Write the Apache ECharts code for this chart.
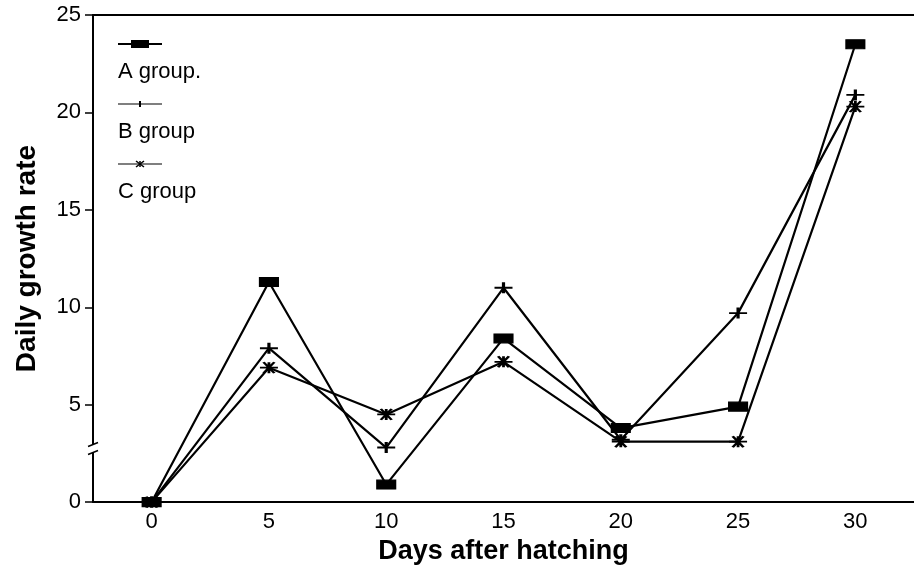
<!DOCTYPE html>
<html>
<head>
<meta charset="utf-8">
<script src="https://cdn.jsdelivr.net/npm/echarts@6/dist/echarts.min.js"></script>
<style>
  html, body { margin: 0; padding: 0; background: #fff; }
  #chart { width: 914px; height: 570px; }
</style>
</head>
<body>
<div id="chart"></div>
<script>
// values
const days = ['0', '5', '10', '15', '20', '25', '30'];
const groupA = [0, 11.3, 0.9, 8.4, 3.8, 4.9, 23.5];
const groupB = [0, 7.9, 2.8, 11.0, 3.2, 9.7, 20.9];
const groupC = [0, 6.9, 4.5, 7.2, 3.1, 3.1, 20.3];
const seriesNames = ['A group.', 'B group', 'C group'];
const yTicks = [0, 5, 10, 15, 20, 25];
const breakAt = 2.75; // where the y axis is drawn broken

const font = '"Liberation Sans", Arial, Helvetica, sans-serif';
const chart = echarts.init(document.getElementById('chart'));

const plusSymbol = 'path://M0,6 L20,6 M10,0 L10,12';
const starSymbol = 'path://M0,6 L20,6 M4,0 L16,12 M4,12 L16,0 M10,0 L10,12';

function lineSeries(name, data, symbol, size, bw) {
    return {
        name: name,
        type: 'line',
        data: data,
        symbol: symbol,
        symbolSize: size,
        clip: false,
        lineStyle: { color: '#000', width: 2.2 },
        itemStyle: { color: '#000', borderColor: '#000', borderWidth: bw },
        emphasis: { disabled: true },
        z: 3
    };
}

const option = {
    animation: false,
    backgroundColor: '#fff',
    textStyle: { fontFamily: font },
    grid: { left: 93, right: 0, top: 15, bottom: 67 },
    xAxis: [
        {
            type: 'category',
            data: days,
            boundaryGap: true,
            name: 'Days after hatching',
            nameLocation: 'middle',
            nameGap: 35,
            nameTextStyle: { fontFamily: font, fontSize: 27, fontWeight: 'bold', color: '#000' },
            axisLine: { lineStyle: { color: '#000', width: 2 } },
            axisTick: { alignWithLabel: true, length: 4, lineStyle: { color: '#000', width: 1.5 } },
            axisLabel: { fontFamily: font, fontSize: 22, color: '#000', margin: 9 },
            splitLine: { show: false }
        },
        {
            type: 'category',
            data: days,
            position: 'top',
            axisLine: { lineStyle: { color: '#000', width: 2 } },
            axisTick: { show: false },
            axisLabel: { show: false },
            splitLine: { show: false }
        }
    ],
    yAxis: {
        type: 'value',
        min: 0,
        max: 25,
        interval: 5,
        name: 'Daily growth rate',
        nameLocation: 'middle',
        nameGap: 52,
        nameRotate: 90,
        nameTextStyle: { fontFamily: font, fontSize: 28, fontWeight: 'bold', color: '#000' },
        axisLine: { show: true, lineStyle: { color: '#000', width: 2 } },
        axisTick: { show: true, length: 8, lineStyle: { color: '#000', width: 1.5 } },
        axisLabel: {
            fontFamily: font, fontSize: 22, color: '#000', margin: 12,
            formatter: v => (yTicks.indexOf(v) >= 0 ? String(v) : '')
        },
        splitLine: { show: false }
    },
    series: [
        lineSeries(seriesNames[0], groupA, 'rect', [18, 9], 1.5),
        lineSeries(seriesNames[1], groupB, plusSymbol, [18, 11], 2.5),
        lineSeries(seriesNames[2], groupC, starSymbol, [18, 11], 2.2)
    ]
};

chart.setOption(option);

// axis break marks and the legend (legend text sits under its sample line)
const bx = chart.convertToPixel({ xAxisIndex: 0 }, days[0]) - 58.6;
const by = chart.convertToPixel({ yAxisIndex: 0 }, breakAt);
const legendX = 118;
const legendRows = [44, 104, 164];

function legendSample(i, y) {
    const els = [{
        type: 'line',
        shape: { x1: legendX, y1: y, x2: legendX + 44, y2: y },
        style: { stroke: '#000', lineWidth: i === 0 ? 2 : 1.2 }
    }];
    const cx = legendX + 22;
    if (i === 0) {
        els.push({ type: 'rect', shape: { x: cx - 9, y: y - 4, width: 18, height: 8 }, style: { fill: '#000' } });
    } else if (i === 1) {
        els.push({ type: 'line', shape: { x1: cx, y1: y - 3, x2: cx, y2: y + 3 }, style: { stroke: '#000', lineWidth: 2 } });
    } else {
        els.push({ type: 'line', shape: { x1: cx - 4, y1: y - 3, x2: cx + 4, y2: y + 3 }, style: { stroke: '#000', lineWidth: 1.5 } });
        els.push({ type: 'line', shape: { x1: cx - 4, y1: y + 3, x2: cx + 4, y2: y - 3 }, style: { stroke: '#000', lineWidth: 1.5 } });
        els.push({ type: 'line', shape: { x1: cx, y1: y - 3, x2: cx, y2: y + 3 }, style: { stroke: '#000', lineWidth: 1.5 } });
    }
    els.push({
        type: 'text',
        x: legendX,
        y: y + 28,
        style: {
            text: seriesNames[i],
            fontFamily: font,
            fontSize: 22,
            fill: '#000',
            verticalAlign: 'middle'
        }
    });
    return els;
}

let graphics = [
    { type: 'rect', shape: { x: bx - 6, y: by - 4, width: 12, height: 8 }, style: { fill: '#fff' }, z: 10 },
    { type: 'line', shape: { x1: bx - 5, y1: by - 2, x2: bx + 5, y2: by - 6 }, style: { stroke: '#000', lineWidth: 1.5 }, z: 11 },
    { type: 'line', shape: { x1: bx - 5, y1: by + 6, x2: bx + 5, y2: by + 2 }, style: { stroke: '#000', lineWidth: 1.5 }, z: 11 }
];
legendRows.forEach((y, i) => { graphics = graphics.concat(legendSample(i, y)); });

chart.setOption({ graphic: graphics });
</script>
</body>
</html>
